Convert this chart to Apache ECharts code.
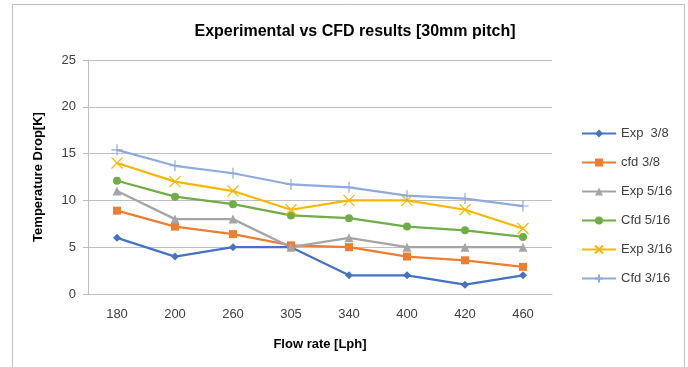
<!DOCTYPE html>
<html><head><meta charset="utf-8">
<script src="https://cdn.jsdelivr.net/npm/echarts@6/dist/echarts.min.js"></script>
<style>html,body{margin:0;padding:0;background:#fff}#c{width:688px;height:367px}</style>
</head><body><div id="c"></div>
<script>
const categories = ['180','200','260','305','340','400','420','460'];
const exp38 = [6, 4, 5, 5, 2, 2, 1, 2];
const cfd38 = [8.9, 7.2, 6.4, 5.2, 5.0, 4.0, 3.6, 2.9];
const exp516 = [11, 8, 8, 5, 6, 5, 5, 5];
const cfd516 = [12.1, 10.4, 9.6, 8.4, 8.1, 7.2, 6.8, 6.1];
const exp316 = [14, 12, 11, 9, 10, 10, 9, 7];
const cfd316 = [15.4, 13.7, 12.9, 11.7, 11.4, 10.5, 10.2, 9.4];
const seriesNames = ['Exp  3/8', 'cfd 3/8', 'Exp 5/16', 'Cfd 5/16', 'Exp 3/16', 'Cfd 3/16'];
const seriesData = [exp38, cfd38, exp516, cfd516, exp316, cfd316];
const colors = ['#4472C4', '#ED7D31', '#A5A5A5', '#70AD47', '#F5B800', '#8FAADC'];
const xPath = 'path://M0,0L10,10M10,0L0,10';
const plusPath = 'path://M5,0L5,10M0,5L10,5';
const symbols = ['diamond', 'rect', 'triangle', 'circle', xPath, plusPath];
const sizes = [8, 8, 9, 8, 11, 11];

const chart = echarts.init(document.getElementById('c'));
const font = 'Liberation Sans, Arial, sans-serif';
chart.setOption({
  animation: false,
  color: colors,
  title: {
    text: 'Experimental vs CFD results [30mm pitch]',
    left: 350, top: 19, textAlign: 'center',
    textStyle: {fontFamily: font, fontSize: 16, fontWeight: 'bold', color: '#000'}
  },
  graphic: [{
    type: 'rect', shape: {x: 12.5, y: 4.5, width: 672, height: 370},
    style: {fill: 'none', stroke: '#BFBFBF', lineWidth: 1}, silent: true
  }],
  legend: {
    orient: 'vertical', left: 576, top: 122, itemGap: 16,
    itemWidth: 34, itemHeight: 10,
    textStyle: {fontFamily: font, fontSize: 13, color: '#404040'},
    data: seriesNames
  },
  grid: {left: 88, right: 136, top: 60, bottom: 73},
  xAxis: {
    type: 'category', data: categories, boundaryGap: true,
    name: 'Flow rate [Lph]', nameLocation: 'middle', nameGap: 44,
    nameTextStyle: {fontFamily: font, fontSize: 13, fontWeight: 'bold', color: '#000'},
    axisLine: {lineStyle: {color: '#BFBFBF', width: 1}},
    axisTick: {show: false},
    axisLabel: {fontFamily: font, fontSize: 13, color: '#404040', margin: 14}
  },
  yAxis: {
    type: 'value', min: 0, max: 25, interval: 5,
    name: 'Temperature Drop[K]', nameLocation: 'middle', nameGap: 43,
    nameTextStyle: {fontFamily: font, fontSize: 13, fontWeight: 'bold', color: '#000'},
    axisLine: {show: true, lineStyle: {color: '#BFBFBF', width: 1}},
    axisTick: {show: true, length: 5, lineStyle: {color: '#BFBFBF'}},
    axisLabel: {fontFamily: font, fontSize: 13, color: '#404040', margin: 12},
    splitLine: {lineStyle: {color: '#BFBFBF', width: 1}}
  },
  series: seriesNames.map((n, i) => ({
    name: n, type: 'line', data: seriesData[i],
    symbol: symbols[i], symbolSize: sizes[i], showSymbol: true,
    lineStyle: {width: 2.25, color: colors[i]},
    itemStyle: (i >= 4) ? {color: 'none', borderColor: colors[i], borderWidth: 1.2} : {color: colors[i]}
  }))
});
</script></body></html>
